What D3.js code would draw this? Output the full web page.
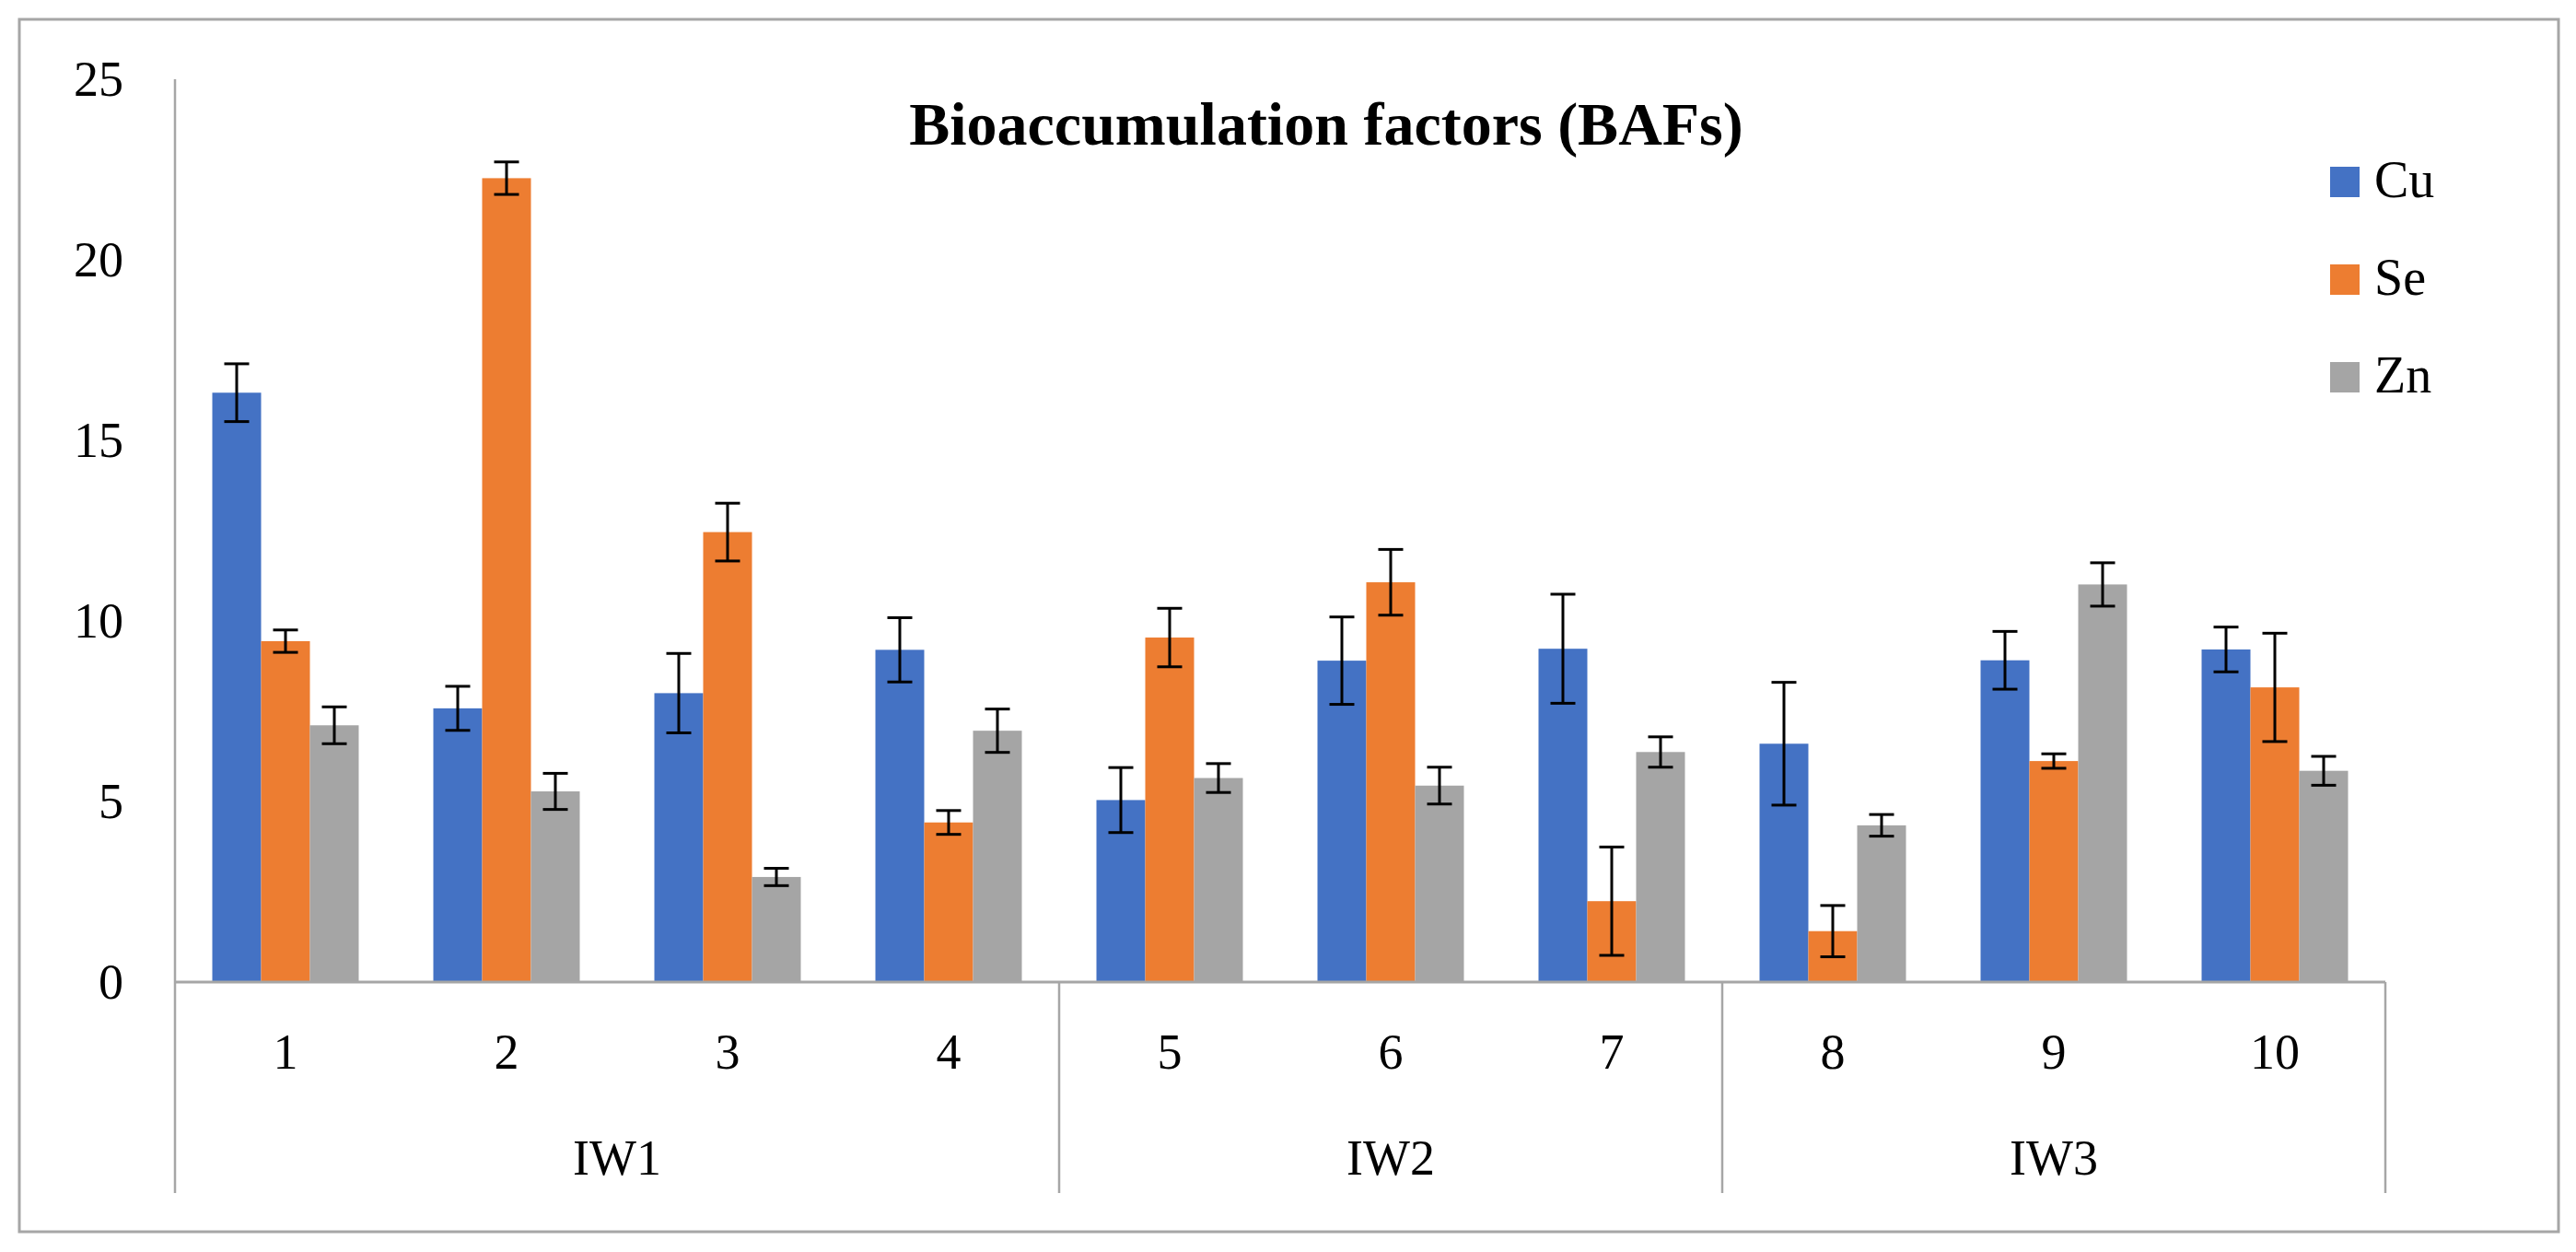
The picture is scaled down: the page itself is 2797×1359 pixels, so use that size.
<!DOCTYPE html>
<html>
<head>
<meta charset="utf-8">
<script src="https://d3js.org/d3.v7.min.js"></script>
<style>
  body { margin: 0; background: #fff; }
  text { font-family: "Liberation Serif", "Times New Roman", serif; fill: #000; }
</style>
</head>
<body>
<svg class="chart" width="2797" height="1359"></svg>
<script>
const width = 2797;
const height = 1359;

// data
const categories = ['1', '2', '3', '4', '5', '6', '7', '8', '9', '10'];
const groups = ['IW1', 'IW1', 'IW1', 'IW1', 'IW2', 'IW2', 'IW2', 'IW3', 'IW3', 'IW3'];
const series = ['Cu', 'Se', 'Zn'];
const colors = {'Cu': '#4472C4', 'Se': '#ED7D31', 'Zn': '#A5A5A5'};
const cu = [16.32, 7.58, 8.00, 9.20, 5.04, 8.90, 9.23, 6.60, 8.91, 9.21];
const se = [9.44, 22.26, 12.46, 4.42, 9.54, 11.07, 2.24, 1.41, 6.12, 8.16];
const zn = [7.11, 5.28, 2.91, 6.96, 5.65, 5.44, 6.37, 4.34, 11.01, 5.85];
const cuErr = [0.80, 0.61, 1.10, 0.89, 0.90, 1.21, 1.51, 1.70, 0.80, 0.62];
const seErr = [0.31, 0.45, 0.80, 0.33, 0.81, 0.91, 1.50, 0.71, 0.20, 1.50];
const znErr = [0.51, 0.50, 0.24, 0.60, 0.40, 0.51, 0.42, 0.30, 0.60, 0.40];
const yTicks = [0, 5, 10, 15, 20, 25];
const title = 'Bioaccumulation factors (BAFs)';

const values = {'Cu': cu, 'Se': se, 'Zn': zn};
const errors = {'Cu': cuErr, 'Se': seErr, 'Zn': znErr};

const plotLeft = 190, plotRight = 2590, plotTop = 86, base = 1066, plotBottom = 1295;
const gray = '#a6a6a6';

var svg = d3.select('svg');

var x0 = d3.scaleBand()
  .domain(categories)
  .range([plotLeft, plotRight])
  .paddingInner(0.3375)
  .paddingOuter(0.16875);
var x1 = d3.scaleBand()
  .domain(series)
  .range([0, x0.bandwidth()]);
var y = d3.scaleLinear()
  .domain([0, 25])
  .range([base, plotTop]);

// outer frame
svg.append('rect')
  .attr('x', 21).attr('y', 21)
  .attr('width', 2757).attr('height', 1316)
  .attr('fill', 'none').attr('stroke', gray).attr('stroke-width', 3);

// title
svg.append('text')
  .attr('x', 1440).attr('y', 157)
  .attr('text-anchor', 'middle')
  .style('font-size', '66px').style('font-weight', 'bold')
  .text(title);

// y axis
svg.append('g')
  .attr('transform', 'translate(' + plotLeft + ',0)')
  .call(d3.axisLeft(y).tickValues(yTicks).tickSize(0).tickPadding(56))
  .call(g => g.select('.domain').remove())
  .selectAll('text')
    .style('font-size', '54px')
    .style('font-family', '"Liberation Serif", serif');

svg.append('line')
  .attr('x1', plotLeft).attr('x2', plotLeft)
  .attr('y1', y(25)).attr('y2', plotBottom)
  .attr('stroke', gray).attr('stroke-width', 2.5);

// bars
var rows = categories.map((c, i) => ({cat: c, i: i}));
var cat = svg.append('g').selectAll('g')
  .data(rows)
  .enter()
  .append('g')
    .attr('transform', d => 'translate(' + x0(d.cat) + ',0)');

cat.selectAll('rect')
  .data(d => series.map(s => ({s: s, v: values[s][d.i], e: errors[s][d.i]})))
  .enter()
  .append('rect')
    .attr('x', d => x1(d.s))
    .attr('y', d => y(d.v))
    .attr('width', x1.bandwidth())
    .attr('height', d => base - y(d.v))
    .attr('fill', d => colors[d.s]);

// error bars
var eb = cat.selectAll('g.err')
  .data(d => series.map(s => ({s: s, v: values[s][d.i], e: errors[s][d.i]})))
  .enter()
  .append('g')
    .attr('class', 'err')
    .attr('stroke', '#000')
    .attr('stroke-width', 3);
const cap = 13.5;
eb.append('line')
  .attr('x1', d => x1(d.s) + x1.bandwidth() / 2)
  .attr('x2', d => x1(d.s) + x1.bandwidth() / 2)
  .attr('y1', d => y(d.v + d.e))
  .attr('y2', d => y(d.v - d.e));
eb.append('line')
  .attr('x1', d => x1(d.s) + x1.bandwidth() / 2 - cap)
  .attr('x2', d => x1(d.s) + x1.bandwidth() / 2 + cap)
  .attr('y1', d => y(d.v + d.e))
  .attr('y2', d => y(d.v + d.e));
eb.append('line')
  .attr('x1', d => x1(d.s) + x1.bandwidth() / 2 - cap)
  .attr('x2', d => x1(d.s) + x1.bandwidth() / 2 + cap)
  .attr('y1', d => y(d.v - d.e))
  .attr('y2', d => y(d.v - d.e));

// baseline
svg.append('line')
  .attr('x1', plotLeft).attr('x2', plotRight)
  .attr('y1', base).attr('y2', base)
  .attr('stroke', gray).attr('stroke-width', 3);

// category labels
svg.append('g')
  .attr('transform', 'translate(0,' + base + ')')
  .call(d3.axisBottom(x0).tickSize(0).tickPadding(0))
  .call(g => g.select('.domain').remove())
  .selectAll('text')
    .attr('dy', 0)
    .attr('y', 94)
    .style('font-size', '54px')
    .style('font-family', '"Liberation Serif", serif');

// group spans
var spans = [];
groups.forEach((g, i) => {
  if (spans.length && spans[spans.length - 1].name == g) spans[spans.length - 1].end = i + 1;
  else spans.push({name: g, start: i, end: i + 1});
});
const edge = i => plotLeft + i * x0.step();

svg.append('g').selectAll('line')
  .data(spans)
  .enter()
  .append('line')
    .attr('x1', d => edge(d.end)).attr('x2', d => edge(d.end))
    .attr('y1', base).attr('y2', plotBottom)
    .attr('stroke', gray).attr('stroke-width', 2.5);

svg.append('g').selectAll('text')
  .data(spans)
  .enter()
  .append('text')
    .attr('x', d => (edge(d.start) + edge(d.end)) / 2)
    .attr('y', 1275)
    .attr('text-anchor', 'middle')
    .style('font-size', '54px')
    .text(d => d.name);

// legend
var lg = svg.append('g').selectAll('g')
  .data(series)
  .enter()
  .append('g')
    .attr('transform', (d, i) => 'translate(2530,' + (181 + i * 106) + ')');
lg.append('rect')
  .attr('width', 32).attr('height', 33)
  .attr('fill', d => colors[d]);
lg.append('text')
  .attr('x', 48).attr('y', 33)
  .style('font-size', '56px')
  .text(d => d);
</script>
</body>
</html>
